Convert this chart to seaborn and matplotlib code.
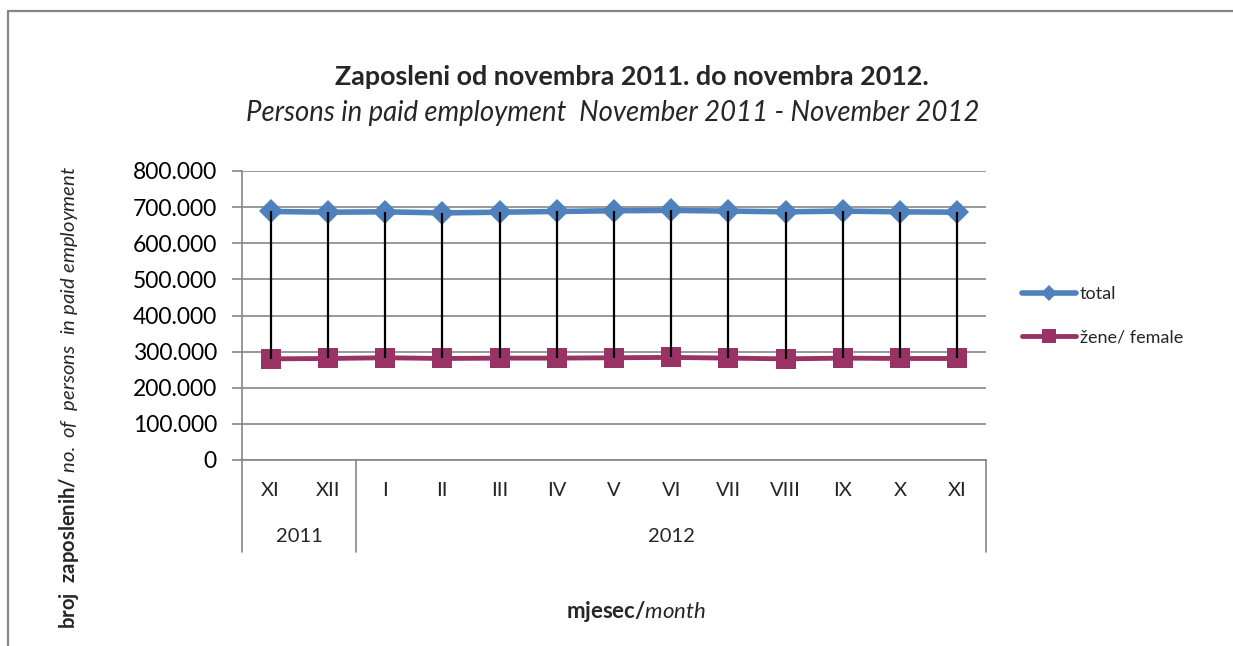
import numpy as np
import pandas as pd
import seaborn as sns
import matplotlib
matplotlib.use("Agg")
import matplotlib.pyplot as plt
from matplotlib.ticker import FuncFormatter
from matplotlib.lines import Line2D

# data
months = ["XI", "XII", "I", "II", "III", "IV", "V", "VI", "VII", "VIII", "IX", "X", "XI"]
years = ["2011", "2011", "2012", "2012", "2012", "2012", "2012", "2012",
         "2012", "2012", "2012", "2012", "2012"]
total = [688000, 686000, 687000, 684000, 686000, 688000, 690000, 691000,
         689000, 687000, 689000, 687000, 686000]
female = [280000, 281000, 283000, 281000, 282000, 282000, 283000, 284000,
          282000, 280000, 282000, 281000, 281000]

sns.set_theme(style="white")
plt.rcParams['font.family'] = ['Lato', 'DejaVu Sans']
plt.rcParams['mathtext.fontset'] = 'custom'
plt.rcParams['mathtext.rm'] = 'Lato'
plt.rcParams['mathtext.bf'] = 'Lato:bold'
plt.rcParams['mathtext.it'] = 'Lato:italic'

df = pd.DataFrame({"pos": np.arange(len(months)), "total": total, "female": female})

fig = plt.figure(figsize=(12.33, 6.46), dpi=100)
ax = fig.add_axes([242 / 1233, 1 - 460 / 646, (986 - 242) / 1233, (460 - 171) / 646])

blue = "#4F81BD"
maroon = "#993366"
grey = "#868686"

# high-low lines between the two series
ax.vlines(df["pos"], df["female"], df["total"], color="black", lw=1.6, zorder=4)

sns.lineplot(data=df, x="pos", y="total", ax=ax, color=blue, lw=4, marker="D",
             markersize=12, markeredgewidth=0, zorder=3)
sns.lineplot(data=df, x="pos", y="female", ax=ax, color=maroon, lw=3.5, marker="s",
             markersize=14, markeredgewidth=0, zorder=3)

ax.set_xlim(-0.5, len(months) - 0.5)
ax.set_ylim(0, 800000)
ax.set_yticks(np.arange(0, 800001, 100000))
ax.yaxis.set_major_formatter(FuncFormatter(lambda v, p: f"{int(v):,}".replace(",", ".")))
ax.grid(axis="y", color=grey, lw=1.2)
ax.set_axisbelow(True)
for s in ["top", "right"]:
    ax.spines[s].set_visible(False)
for s in ["left", "bottom"]:
    ax.spines[s].set_color(grey)
    ax.spines[s].set_linewidth(1.2)
ax.tick_params(axis="y", left=True, length=7, width=1.2, color=grey, labelsize=16.5,
               pad=11, labelcolor="black")
ax.set_xticks([])
ax.set_xlabel("")
ax.set_ylabel("")

# two-level category axis
tr = ax.get_xaxis_transform()
for i, m in enumerate(months):
    ax.text(i, -0.105, m, transform=tr, ha="center", va="center", fontsize=14.5)
bounds = [-0.5]
for i in range(1, len(years)):
    if years[i] != years[i - 1]:
        bounds.append(i - 0.5)
bounds.append(len(years) - 0.5)
for b in bounds:
    ax.plot([b, b], [0, -0.318], transform=tr, color=grey, lw=1.2, clip_on=False)
for a, b in zip(bounds[:-1], bounds[1:]):
    ax.text((a + b) / 2, -0.265, years[int(a + 0.5)], transform=tr, ha="center",
            va="center", fontsize=14.5)

fig.text(632 / 1233, 1 - 77 / 646, "Zaposleni od novembra 2011. do novembra 2012.",
         ha="center", va="center", fontsize=19.4, fontweight="bold")
fig.text(613 / 1233, 1 - 113 / 646,
         "Persons in paid employment  November 2011 - November 2012",
         ha="center", va="center", fontsize=19.8, style="italic")
fig.text(636 / 1233, 1 - 612 / 646, r"$\mathbf{mjesec/}\mathit{month}$",
         ha="center", va="center", fontsize=16)
fig.text(69 / 1233, 1 - 398 / 646,
         r"$\mathbf{broj\ \ zaposlenih/}\ \mathit{no.\ of\ \ persons\ \ in\ paid\ employment}$",
         ha="center", va="center", rotation=90, fontsize=14.6)

handles = [Line2D([], [], color=blue, lw=4, marker="D", markersize=8, markeredgewidth=0),
           Line2D([], [], color=maroon, lw=3.5, marker="s", markersize=10, markeredgewidth=0)]
fig.legend(handles, ["total", "žene/ female"], loc="center left",
           bbox_to_anchor=(1006 / 1233, 1 - 316 / 646), frameon=False, fontsize=13,
           handlelength=3.0, handletextpad=0.2, labelspacing=1.5)

# outer chart border (top and left visible)
fig.add_artist(Line2D([8 / 1233, 8 / 1233], [0, 1 - 11 / 646], color=grey, lw=1.6))
fig.add_artist(Line2D([8 / 1233, 1], [1 - 11 / 646, 1 - 11 / 646], color=grey, lw=1.6))

fig.savefig("out.png", dpi=100)
